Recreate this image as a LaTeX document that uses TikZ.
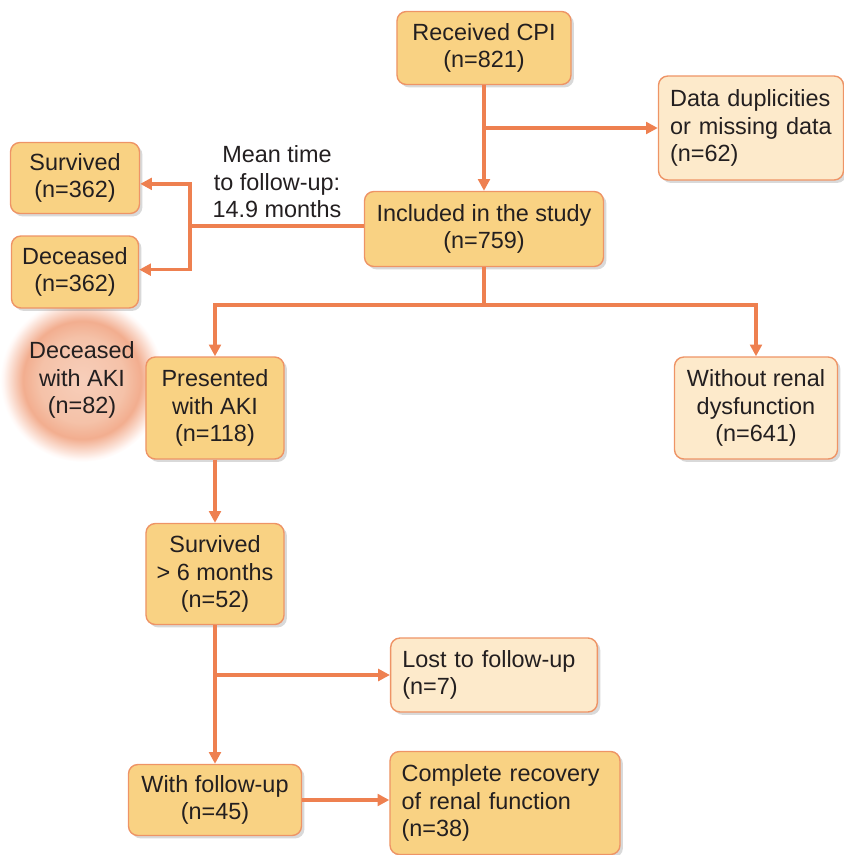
\documentclass[tikz,border=0pt]{standalone}
\usepackage{fontspec}
\setmainfont{Liberation Sans}
\usepackage{tikz}
\usetikzlibrary{arrows.meta,positioning,calc,shadows}
\definecolor{ink}{HTML}{231F20}
\definecolor{flow}{HTML}{EE8050}
\definecolor{rim}{HTML}{EE9466}
\definecolor{boxfill}{HTML}{F9D283}
\definecolor{palefill}{HTML}{FDEACB}
\pgfdeclareradialshading{aglow}{\pgfpoint{0bp}{0bp}}{%
  rgb(0bp)=(0.97,0.81,0.73);
  rgb(13bp)=(0.96,0.76,0.66);
  rgb(18bp)=(0.95,0.68,0.56);
  rgb(24bp)=(1,0.97,0.96);
  rgb(25bp)=(1,1,1);
  rgb(50bp)=(1,1,1)}
\tikzset{
  >={Triangle[length=10pt,width=10pt]},
  every node/.style={font=\fontsize{20}{23.5}\selectfont,text=ink},
  stage/.style={draw=rim,line width=1.2pt,rounded corners=8pt,fill=boxfill,align=center,inner sep=4pt,
    drop shadow={shadow xshift=2.5pt,shadow yshift=-2.5pt,opacity=0.25,fill=black!60}},
  excl/.style={stage,fill=palefill},
  leftbox/.style={align=left,inner xsep=0.35cm},
  arrow/.style={->,line width=3pt,draw=flow},
  link/.style={line width=3pt,draw=flow}
}
\begin{document}
\begin{tikzpicture}[x=0.03cm,y=-0.03cm]
  \useasboundingbox (0,0) rectangle (844,855);
  \shade[shading=aglow] (82,380) circle (82);

  \node[stage,minimum width=5.22cm,minimum height=2.19cm] (received) at (484,48) {Received CPI\\(n=821)};
  \node[excl,leftbox,text width=4.85cm,minimum height=3.12cm] (duplicates) at (751,128) {Data duplicities\\or missing data\\(n=62)};
  \node[stage,minimum width=7.17cm,minimum height=2.25cm] (included) at (484,229) {Included in the study\\(n=759)};
  \node[align=center] (meantime) at (277,182) {Mean time\\to follow-up:\\14.9 months};
  \node[stage,minimum width=3.87cm,minimum height=2.13cm] (survived) at (75,178) {Survived\\(n=362)};
  \node[stage,minimum width=3.81cm,minimum height=2.16cm] (deceased) at (75,272) {Deceased\\(n=362)};
  \node[align=center] (akideath) at (82,380) {Deceased\\with AKI\\(n=82)};
  \node[stage,minimum width=4.14cm,minimum height=3.06cm] (aki) at (215,408) {Presented\\with AKI\\(n=118)};
  \node[excl,minimum width=4.89cm,minimum height=3.06cm] (nodys) at (756,408) {Without renal\\dysfunction\\(n=641)};
  \node[stage,minimum width=4.14cm,minimum height=3.03cm] (surv6) at (215,574) {Survived\\> 6 months\\(n=52)};
  \node[excl,leftbox,text width=5.5cm,minimum height=2.22cm] (lost) at (494,675) {Lost to follow-up\\(n=7)};
  \node[stage,minimum width=5.19cm,minimum height=2.13cm] (withfu) at (215,800) {With follow-up\\(n=45)};
  \node[stage,leftbox,text width=6.2cm,minimum height=3.09cm] (recovery) at (505,803) {Complete recovery\\of renal function\\(n=38)};

  \coordinate (split) at (190,226);
  \coordinate (fork) at (484,305);

  \draw[arrow] (received) -- (included);
  \draw[arrow] (received.south |- duplicates.west) -- (duplicates.west);
  \draw[link] (included.west |- split) -- (split);
  \draw[arrow] (split) |- ([yshift=-5]survived.east);
  \draw[arrow] (split) |- ([yshift=2]deceased.east);
  \draw[link] (included.south) -- (fork);
  \draw[arrow] (fork) -| (aki.north);
  \draw[arrow] (fork) -| (nodys.north);
  \draw[arrow] (aki) -- (surv6);
  \draw[arrow] (surv6) -- (withfu);
  \draw[arrow] (surv6.south |- lost.west) -- (lost.west);
  \draw[arrow] (withfu.east) -- (withfu.east -| recovery.west);
\end{tikzpicture}
\end{document}
